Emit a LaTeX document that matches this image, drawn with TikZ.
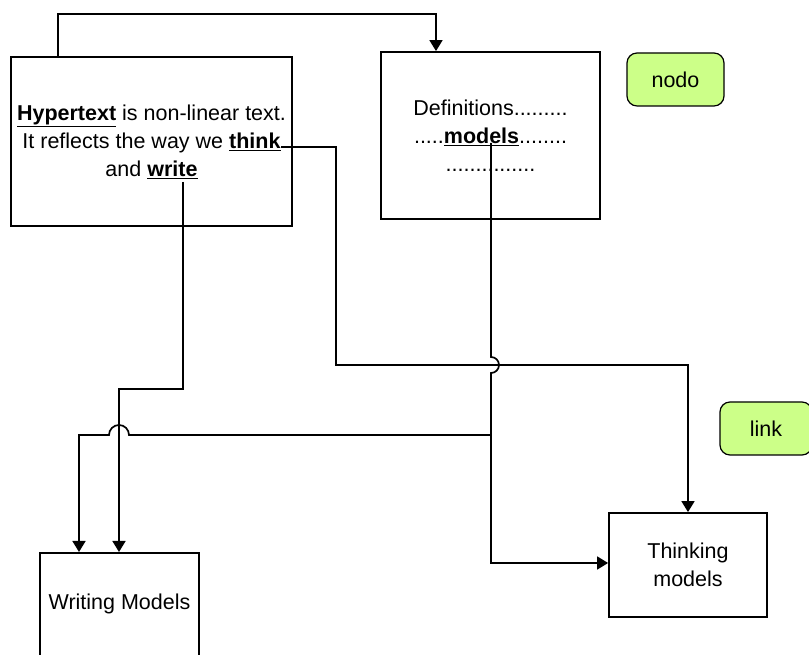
\documentclass[tikz,border=0pt]{standalone}
\usepackage{fontspec}
\setmainfont{Liberation Sans}
\usetikzlibrary{arrows.meta}
\definecolor{tagfill}{RGB}{204,255,136}
\begin{document}
\begin{tikzpicture}[x=1pt,y=1pt,
  box/.style={draw, line width=1.8pt, rectangle, inner sep=0pt, align=center},
  tag/.style={draw, line width=1.2pt, fill=tagfill, rounded corners=10pt, inner sep=0pt},
  conn/.style={line width=1.7pt},
  arr/.style={conn, -{Triangle[length=11pt,width=13pt]}},
  txt/.style={font=\fontsize{21.5}{28}\selectfont, align=center}]
\useasboundingbox (0,0) rectangle (809,655);
% boxes
\node[box, txt, minimum width=281, minimum height=169] (hyper) at (151.5,513.5)
  {\underline{\textbf{Hypertext}} is non-linear text.\\It reflects the way we \underline{\textbf{think}}\\and \underline{\textbf{write}}};
\node[box, txt, minimum width=219, minimum height=167] (def) at (490.5,519.5)
  {Definitions.........\\.....\underline{\textbf{models}}........\\...............};
\node[box, minimum width=159, minimum height=140, anchor=north] (wm) at (119.5,103) {};
\node[txt] (wmtext) at (119.5,51) {Writing Models};
\node[box, txt, minimum width=158, minimum height=104] (thk) at (688,90) {Thinking\\models};
\node[tag, txt, minimum width=97, minimum height=53] (nodo) at (675.5,575.5) {nodo};
\node[tag, txt, minimum width=92, minimum height=53] (link) at (766,226.5) {link};
% coordinates
\coordinate (t1) at (58,641);
\coordinate (t2) at (436,641);
\coordinate (think) at (281,508);
\coordinate (k1) at (336,290);
\coordinate (write) at (183,473);
\coordinate (w1) at (119,266);
\coordinate (models) at (491,512);
\coordinate (mj) at (491,298);
\coordinate (m2) at (491,92);
\coordinate (mb) at (491,220);
\coordinate (bj) at (129,220);
\coordinate (b2) at (79,220);
% connectors
\draw[arr] (hyper.north -| t1) -- (t1) -- (t2) -- (def.north -| t2);
\draw[arr] (think) -| (k1) -| (thk.north);
\draw[arr] (write) |- (w1) -- (wm.north -| w1);
\draw[arr] (models) -- (mj) arc (90:-90:8) -- (m2) -- (thk.west |- m2);
\draw[arr] (mb) -- (bj) arc (0:180:10) -- (b2) -- (wm.north -| b2);
\end{tikzpicture}
\end{document}
